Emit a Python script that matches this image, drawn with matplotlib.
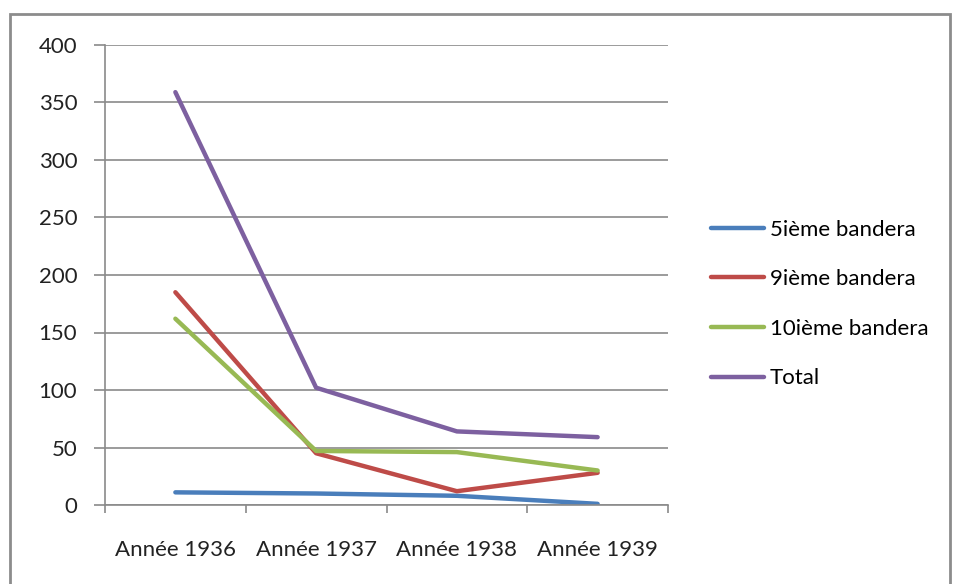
import numpy as np
import matplotlib.pyplot as plt
from matplotlib.patches import Rectangle

# values
years = ['Année 1936', 'Année 1937', 'Année 1938', 'Année 1939']
bandera_5 = [11, 10, 8, 1]
bandera_9 = [185, 45, 12, 28]
bandera_10 = [162, 47, 46, 30]
total = [359, 102, 64, 59]

series = [
    ('5ième bandera', bandera_5, '#4A7EBB'),
    ('9ième bandera', bandera_9, '#BE4B48'),
    ('10ième bandera', bandera_10, '#98B954'),
    ('Total', total, '#7D60A0'),
]

plt.rcParams['font.family'] = ['Lato', 'DejaVu Sans']

fig = plt.figure(figsize=(9.6, 5.84), dpi=100)
fig.patches.append(Rectangle((10 / 960, -0.05), 940 / 960, 1.05 - 14 / 584,
                             transform=fig.transFigure, fill=False,
                             edgecolor='#8c8c8c', linewidth=2))

ax = fig.add_axes([105 / 960, 1 - 505 / 584, 563 / 960, 460 / 584])
x = np.arange(len(years)) + 0.5
for name, vals, col in series:
    ax.plot(x, vals, color=col, linewidth=3.2, label=name, solid_capstyle='round')

ax.set_xlim(0, len(years))
ax.set_ylim(0, 400)
ax.set_yticks(range(0, 401, 50))
ax.grid(axis='y', color='#8a8a8a', linewidth=1.2)
ax.set_axisbelow(True)

ax.set_xticks(range(len(years) + 1))
ax.set_xticklabels([])
ax.set_xticks(x, minor=True)
ax.set_xticklabels(years, minor=True)
ax.tick_params(axis='x', which='major', length=6, color='#8a8a8a', width=1.2)
ax.tick_params(axis='x', which='minor', length=0, pad=25, labelsize=16, labelcolor='#222222')
ax.tick_params(axis='y', length=8, color='#8a8a8a', width=1.2, pad=12,
               labelsize=16, labelcolor='#222222')

for s in ['top', 'right']:
    ax.spines[s].set_visible(False)
for s in ['left', 'bottom']:
    ax.spines[s].set_color('#8a8a8a')
    ax.spines[s].set_linewidth(1.2)

ax.legend(loc='center left', bbox_to_anchor=(1.041, 0.437), frameon=False,
          fontsize=16, handlelength=2.4, handletextpad=0.25, labelspacing=1.33)

fig.savefig('out.png', dpi=100)
